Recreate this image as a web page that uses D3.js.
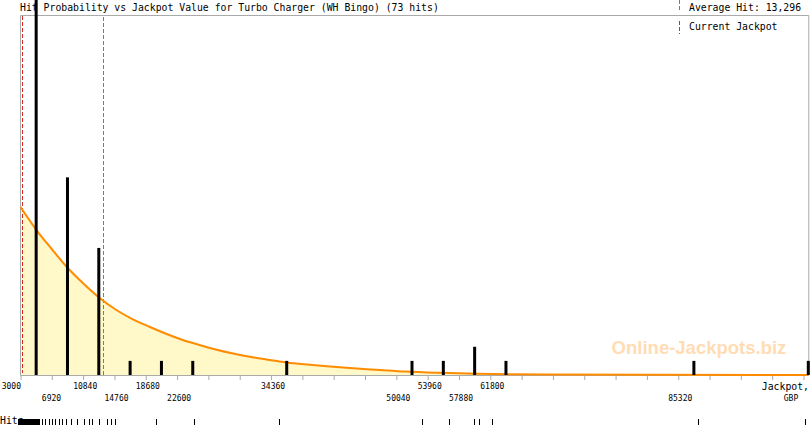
<!DOCTYPE html>
<html><head><meta charset="utf-8">
<script src="https://cdn.jsdelivr.net/npm/d3@7/dist/d3.min.js"></script>
<style>html,body{margin:0;padding:0;background:#fff}svg{display:block}</style>
</head><body>
<script>
// ---------- data ----------
const chartTitle = "Hit Probability vs Jackpot Value for Turbo Charger (WH Bingo) (73 hits)";
const averageHit = 13296;
const currentJackpot = 3250;
const binWidth = 3920;
const axisStart = 3000;
const axisEnd = 101600;
const binStarts = [3000, 6920, 10840, 14760, 18680, 22600, 34360, 50040, 53960, 57880, 61800, 85320, 101000];
const binHits   = [39,   14,   9,     1,     1,     1,     1,     1,     1,     2,     1,     1,     1];
const tickLabels = [3000, 6920, 10840, 14760, 18680, 22600, 34360, 50040, 53960, 57880, 61800, 85320];
const curveJackpot = [3000, 4900, 6900, 8800, 10800, 12900, 15000, 17000, 19200, 21300, 23300, 25400, 26700, 30800, 33800, 36300, 39200, 44200, 48000, 51100, 55500, 60100, 68900, 101600];
const curveProb    = [16.33, 14.19, 12.25, 10.50, 8.94, 7.49, 6.32, 5.44, 4.67, 3.99, 3.40, 2.92, 2.62, 1.90, 1.51, 1.22, 1.00, 0.68, 0.49, 0.34, 0.21, 0.12, 0.04, 0];
const hitValues = [
  2650, 2720, 2800, 2870, 2950, 3020, 3100, 3180, 3250, 3330, 3400, 3480, 3560, 3630, 3710, 3790, 3860, 3940,
  4020, 4100, 4170, 4250, 4330, 4400, 4480, 4560, 4640, 4710, 4790, 4870, 4950, 5030, 5110, 5190, 5270, 5350,
  5720, 6100, 6510,
  6950, 6960, 7350, 7360, 7760, 7770, 8170, 8180, 8730, 8740, 9260, 9270, 10100, 10110,
  10930, 11560, 11570, 11980, 11990, 12810, 12820, 13860, 14280,
  14850, 20000, 24710, 35360, 53200, 56660, 59790, 60380, 62040, 87850, 101130
];

(function () {
// ---------- layout ----------
const W = 810, H = 425;
const pLeft = 20.5, pRight = 808.3, pTop = 15, base = 375;
const mono = "'DejaVu Sans Mono', monospace";
const grey = "#aaaaaa";

const svg = d3.select("body").append("svg").attr("width", W).attr("height", H);

const x = d3.scaleLinear().domain([axisStart, axisEnd]).range([pLeft, pRight]).clamp(true);
const yHits = d3.scaleLinear().domain([0, 25.5]).range([base, pTop]);
const yProb = d3.scaleLinear().domain([0, 35]).range([base, pTop]);

// title
svg.append("text").attr("x", 20).attr("y", 10.5)
  .attr("font-family", mono).attr("font-size", 9.8).attr("fill", "#000")
  .text(chartTitle);

// area
const pts = curveJackpot.map((v, i) => [v, curveProb[i]]);
svg.append("path").datum(pts)
  .attr("d", d3.area().x(d => x(d[0])).y0(base).y1(d => yProb(d[1])).curve(d3.curveMonotoneX))
  .attr("fill", "#fff8c8");

// frame
svg.append("path")
  .attr("d", `M${pLeft},${base}V${pTop + 0.5}H${pRight + 0.5}V${base}`)
  .attr("fill", "none").attr("stroke", grey).attr("stroke-width", 1);

// axis
const ticks = d3.range(axisStart, axisEnd, binWidth);
const axisG = svg.append("g").attr("transform", `translate(0,${base})`);
axisG.call(d3.axisBottom(x).tickValues(ticks).tickSize(5).tickFormat(""));
axisG.select(".domain").attr("stroke", grey).attr("d", `M${pLeft},0.5H${pRight + 0.5}`);
axisG.selectAll(".tick line").attr("stroke", grey);

// tick labels in two alternating rows
svg.append("g").selectAll("text").data(tickLabels).join("text")
  .attr("x", (d, i) => i === 0 ? x(d) + 0.5 : x(d) - 10)
  .attr("y", (d, i) => i % 2 === 0 ? 389 : 401)
  .attr("text-anchor", (d, i) => i === 0 ? "end" : "start")
  .attr("font-family", mono).attr("font-size", 8).attr("fill", "#000")
  .text(d => d);

svg.append("text").attr("x", 809).attr("y", 390).attr("text-anchor", "end")
  .attr("font-family", mono).attr("font-size", 9.8).text("Jackpot,");
svg.append("text").attr("x", 791).attr("y", 401).attr("text-anchor", "middle")
  .attr("font-family", mono).attr("font-size", 8).text("GBP");

// reference lines
const cjx = Math.round(x(currentJackpot)) + 0.5;
const avx = Math.round(x(averageHit)) + 0.5;
svg.append("line").attr("x1", cjx).attr("x2", cjx)
  .attr("y1", 16).attr("y2", 373).attr("stroke", "#d42a2a").attr("stroke-dasharray", "4,2");
svg.append("line").attr("x1", avx).attr("x2", avx)
  .attr("y1", 17).attr("y2", 375).attr("stroke", "#3c8cc8").attr("stroke-dasharray", "4,2");

// watermark
svg.append("text").attr("x", 699).attr("y", 354).attr("text-anchor", "middle")
  .attr("font-family", "'Liberation Sans', Arial, sans-serif").attr("font-weight", "bold")
  .attr("font-size", 18.5).attr("fill", "#ffdcb4").text("Online-Jackpots.biz");

// curve line
svg.append("path").datum(pts)
  .attr("d", d3.line().x(d => x(d[0])).y(d => yProb(d[1])).curve(d3.curveMonotoneX))
  .attr("fill", "none").attr("stroke", "#ff8c00").attr("stroke-width", 2);

// hit bars
svg.append("g").selectAll("rect").data(binStarts).join("rect")
  .attr("x", d => Math.min(x(d + binWidth / 2), pRight) - 1.5)
  .attr("width", 3)
  .attr("y", (d, i) => yHits(binHits[i]))
  .attr("height", (d, i) => base - yHits(binHits[i]))
  .attr("fill", "#000");

// legend
const legX = 679.5;
svg.append("line").attr("x1", legX).attr("x2", legX).attr("y1", 0).attr("y2", 11)
  .attr("stroke", "#3c8cc8").attr("stroke-dasharray", "4,2");
svg.append("text").attr("x", 689).attr("y", 10.5).attr("font-family", mono).attr("font-size", 9.8)
  .text("Average Hit: " + d3.format(",")(averageHit));
svg.append("line").attr("x1", legX).attr("x2", legX).attr("y1", 21).attr("y2", 34)
  .attr("stroke", "#d42a2a").attr("stroke-dasharray", "4,2");
svg.append("text").attr("x", 689).attr("y", 30).attr("font-family", mono).attr("font-size", 9.8)
  .text("Current Jackpot");

// hits rug
svg.append("text").attr("x", 0).attr("y", 424).attr("font-family", mono).attr("font-size", 9.8).text("Hits");
const xr = d3.scaleLinear().domain([axisStart, axisEnd]).range([pLeft, pRight]);
svg.append("g").selectAll("line").data(hitValues).join("line")
  .attr("x1", d => Math.round(xr(d)) + 0.5).attr("x2", d => Math.round(xr(d)) + 0.5)
  .attr("y1", 419).attr("y2", 425).attr("stroke", "#000").attr("stroke-width", 1);
})();
</script>
</body></html>
